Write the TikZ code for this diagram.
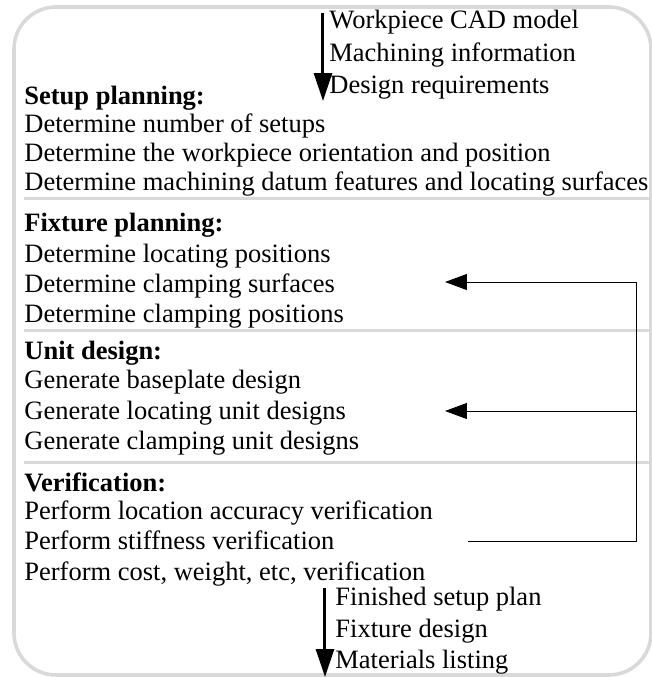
\documentclass[tikz,border=0pt]{standalone}
\usepackage{fontspec}
\setmainfont{Liberation Serif}
\usepackage{xcolor}
\usetikzlibrary{arrows.meta, positioning}

\begin{document}
\begin{tikzpicture}[
    x=0.5pt, y=-0.5pt,
    itemtext/.style={anchor=base west, inner sep=0pt, font=\fontsize{13.25}{15}\selectfont},
    headtext/.style={itemtext, font=\fontsize{13.25}{15}\selectfont\bfseries},
    frame/.style={draw=gray!30, line width=1.8pt, rounded corners=21pt},
    divider/.style={draw=gray!30, line width=1.5pt},
    flowarrow/.style={-{Triangle[length=14pt, width=9pt]}, line width=1.5pt},
    fbarrow/.style={-{Triangle[length=11pt, width=8pt]}, line width=0.5pt}
]
\useasboundingbox (0,0) rectangle (652,677);

% Outer frame
\draw[frame] (14,7) rectangle (651,675);

% Input information
\coordinate (intop) at (323,13);
\coordinate (inbot) at (323,101);
\draw[flowarrow] (intop) -- (inbot);
\node[itemtext] (in1) at (329,28) {Workpiece CAD model};
\node[itemtext] (in2) at (329,61) {Machining information};
\node[itemtext] (in3) at (329,93) {Design requirements};

% Setup planning
\node[headtext] (sp) at (24,104) {Setup planning:};
\node[itemtext] (sp1) at (24,132) {Determine number of setups};
\node[itemtext] (sp2) at (24,161) {Determine the workpiece orientation and position};
\node[itemtext] (sp3) at (24,190) {Determine machining datum features and locating surfaces};
\draw[divider] (24,198) -- (650,198);

% Fixture planning
\node[headtext] (fp) at (24,231) {Fixture planning:};
\node[itemtext] (fp1) at (24,262) {Determine locating positions};
\node[itemtext] (fp2) at (24,292) {Determine clamping surfaces};
\node[itemtext] (fp3) at (24,322) {Determine clamping positions};
\draw[divider] (24,330) -- (650,330);

% Unit design
\node[headtext] (ud) at (24,359) {Unit design:};
\node[itemtext] (ud1) at (24,388) {Generate baseplate design};
\node[itemtext] (ud2) at (24,419) {Generate locating unit designs};
\node[itemtext] (ud3) at (24,449) {Generate clamping unit designs};
\draw[divider] (24,462) -- (650,462);

% Verification
\node[headtext] (vf) at (24,491) {Verification:};
\node[itemtext] (vf1) at (24,519) {Perform location accuracy verification};
\node[itemtext] (vf2) at (24,549) {Perform stiffness verification};
\node[itemtext] (vf3) at (24,580) {Perform cost, weight, etc, verification};

% Feedback loop
\coordinate (fbstart) at (468,541);
\coordinate (fbside) at (637,0);
\coordinate (fbfix) at (445,282);
\coordinate (fbunit) at (445,411);
\draw[fbarrow] (fbstart) -- (fbstart -| fbside) -- (fbfix -| fbside) -- (fbfix);
\draw[fbarrow] (fbunit -| fbside) -- (fbunit);

% Output information
\coordinate (outtop) at (325,588);
\coordinate (outbot) at (325,677);
\draw[flowarrow] (outtop) -- (outbot);
\node[itemtext] (out1) at (335,605) {Finished setup plan};
\node[itemtext] (out2) at (335,637) {Fixture design};
\node[itemtext] (out3) at (335,668) {Materials listing};

\end{tikzpicture}
\end{document}
